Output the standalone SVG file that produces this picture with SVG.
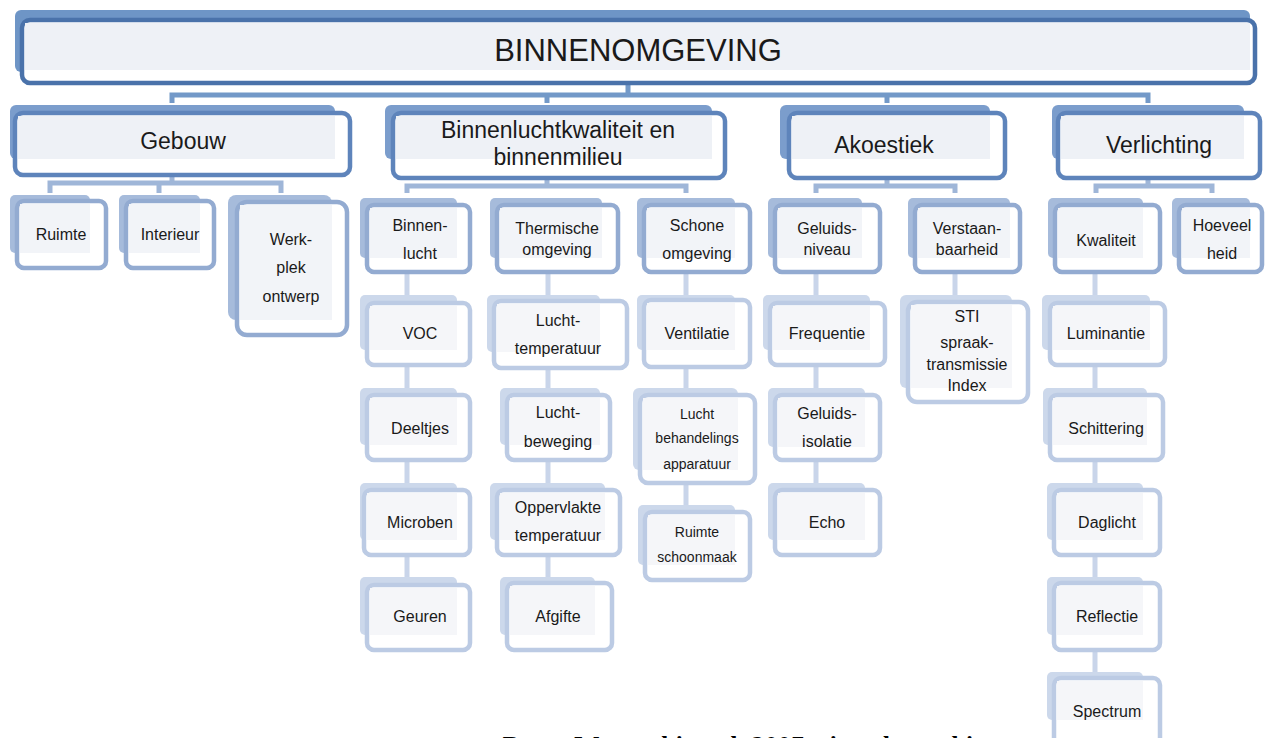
<svg xmlns="http://www.w3.org/2000/svg" width="1266" height="738" viewBox="0 0 1266 738">
<style>
text{font-family:"Liberation Sans",Arial,sans-serif;fill:#1a1a1a;text-anchor:middle}
.fr{fill:#ffffff;stroke-width:4.5}
.l0 .bk{fill:#6e95c6}.l0 .fr{stroke:#4a72aa}.l0 .ti{fill:#eef1f6}
.l1 .bk{fill:#7b9dcc}.l1 .fr{stroke:#5e84bb}.l1 .ti{fill:#eef1f6}
.l2 .bk{fill:#a6bbdb}.l2 .fr{stroke:#93abd1}.l2 .ti{fill:#f2f4f8}
.l3 .bk{fill:#ccd8eb}.l3 .fr{stroke:#bccbe4}.l3 .ti{fill:#f5f6f9}
.c0{stroke:#7399c8;stroke-width:5;fill:none}
.c1{stroke:#9fb6d8;stroke-width:5;fill:none}
.c3{stroke:#c9d5ea;stroke-width:5;fill:none}
.t0{font-size:31px}.t1{font-size:23px}.t2{font-size:16px}.t3{font-size:14px}
</style>
<rect width="1266" height="738" fill="#ffffff"/>
<g id="connectors">
<path class="c0" d="M628 83V95M172 103V95H1148V103M547 95V103M887 95V103"/>
<path class="c1" d="M172 175V183M50 193V183H281V193M159 183V193"/>
<path class="c1" d="M547 178V186M407 193V186H686V193"/>
<path class="c1" d="M887 178V186M816 193V186H955V193"/>
<path class="c1" d="M1148 178V186M1096 193V186H1212V193"/>
<path class="c3" d="M407 272V300M407 365V392M407 460V487M407 555V582"/>
<path class="c3" d="M548 272V300M548 368V392M548 460V487M548 555V582"/>
<path class="c3" d="M686 272V300M686 367V392M686 483V509"/>
<path class="c3" d="M816 272V300M816 365V392M816 460V487"/>
<path class="c3" d="M955 272V300"/>
<path class="c3" d="M1095 272V300M1095 365V392M1095 460V487M1095 555V582M1095 650V676"/>
</g>
<g id="n-binnenomgeving" class="l0">
<rect class="bk" x="15" y="10" width="1235" height="62" rx="6"/>
<rect class="fr" x="22" y="20" width="1233" height="63" rx="8"/>
<rect class="ti" x="25" y="23" width="1225" height="47"/>
<text class="t0" x="638" y="61">BINNENOMGEVING</text>
</g>
<g id="n-gebouw" class="l1">
<rect class="bk" x="10" y="105" width="325" height="54" rx="6"/>
<rect class="fr" x="15" y="113" width="335" height="62" rx="8"/>
<rect class="ti" x="18" y="116" width="317" height="43"/>
<text class="t1" x="183" y="149">Gebouw</text>
</g>
<g id="n-binnenlucht-kw" class="l1">
<rect class="bk" x="385" y="105" width="327" height="54" rx="6"/>
<rect class="fr" x="393" y="113" width="332" height="65" rx="8"/>
<rect class="ti" x="396" y="116" width="316" height="43"/>
<text class="t1" x="558" y="138">Binnenluchtkwaliteit en</text>
<text class="t1" x="558" y="165">binnenmilieu</text>
</g>
<g id="n-akoestiek" class="l1">
<rect class="bk" x="780" y="105" width="210" height="54" rx="6"/>
<rect class="fr" x="789" y="113" width="216" height="65" rx="8"/>
<rect class="ti" x="792" y="116" width="198" height="43"/>
<text class="t1" x="884" y="153">Akoestiek</text>
</g>
<g id="n-verlichting" class="l1">
<rect class="bk" x="1052" y="105" width="192" height="54" rx="6"/>
<rect class="fr" x="1058" y="113" width="202" height="65" rx="8"/>
<rect class="ti" x="1061" y="116" width="183" height="43"/>
<text class="t1" x="1159" y="153">Verlichting</text>
</g>
<g id="n-ruimte" class="l2">
<rect class="bk" x="10" y="195" width="80" height="58" rx="5"/>
<rect class="fr" x="17" y="201" width="89" height="67" rx="7"/>
<rect class="ti" x="20" y="204" width="70" height="49"/>
<text class="t2" x="61" y="240">Ruimte</text>
</g>
<g id="n-interieur" class="l2">
<rect class="bk" x="119" y="195" width="81" height="58" rx="5"/>
<rect class="fr" x="126" y="201" width="88" height="67" rx="7"/>
<rect class="ti" x="129" y="204" width="71" height="49"/>
<text class="t2" x="170" y="240">Interieur</text>
</g>
<g id="n-werkplek" class="l2">
<rect class="bk" x="228" y="195" width="104" height="125" rx="8"/>
<rect class="fr" x="237" y="202" width="110" height="133" rx="10"/>
<rect class="ti" x="240" y="205" width="92" height="115"/>
<text class="t2" x="291" y="245">Werk-</text>
<text class="t2" x="291" y="273">plek</text>
<text class="t2" x="291" y="302">ontwerp</text>
</g>
<g id="n-binnen-lucht" class="l2">
<rect class="bk" x="360" y="198" width="97" height="60" rx="5"/>
<rect class="fr" x="367" y="205" width="103" height="67" rx="7"/>
<rect class="ti" x="370" y="208" width="87" height="50"/>
<text class="t2" x="420" y="231">Binnen-</text>
<text class="t2" x="420" y="259">lucht</text>
</g>
<g id="n-thermische" class="l2">
<rect class="bk" x="490" y="198" width="112" height="60" rx="5"/>
<rect class="fr" x="497" y="205" width="121" height="67" rx="7"/>
<rect class="ti" x="500" y="208" width="102" height="50"/>
<text class="t2" x="557" y="234">Thermische</text>
<text class="t2" x="557" y="255">omgeving</text>
</g>
<g id="n-schone" class="l2">
<rect class="bk" x="637" y="198" width="98" height="60" rx="5"/>
<rect class="fr" x="644" y="205" width="106" height="67" rx="7"/>
<rect class="ti" x="647" y="208" width="88" height="50"/>
<text class="t2" x="697" y="231">Schone</text>
<text class="t2" x="697" y="259">omgeving</text>
</g>
<g id="n-voc" class="l3">
<rect class="bk" x="360" y="295" width="97" height="55" rx="5"/>
<rect class="fr" x="367" y="303" width="103" height="62" rx="7"/>
<rect class="ti" x="370" y="306" width="87" height="44"/>
<text class="t2" x="420" y="339">VOC</text>
</g>
<g id="n-deeltjes" class="l3">
<rect class="bk" x="360" y="388" width="97" height="57" rx="5"/>
<rect class="fr" x="367" y="395" width="103" height="65" rx="7"/>
<rect class="ti" x="370" y="398" width="87" height="47"/>
<text class="t2" x="420" y="434">Deeltjes</text>
</g>
<g id="n-microben" class="l3">
<rect class="bk" x="360" y="483" width="97" height="57" rx="5"/>
<rect class="fr" x="364" y="490" width="106" height="65" rx="7"/>
<rect class="ti" x="367" y="493" width="90" height="47"/>
<text class="t2" x="420" y="528">Microben</text>
</g>
<g id="n-geuren" class="l3">
<rect class="bk" x="360" y="577" width="97" height="58" rx="5"/>
<rect class="fr" x="367" y="585" width="103" height="65" rx="7"/>
<rect class="ti" x="370" y="588" width="87" height="47"/>
<text class="t2" x="420" y="622">Geuren</text>
</g>
<g id="n-luchttemp" class="l3">
<rect class="bk" x="487" y="295" width="113" height="57" rx="5"/>
<rect class="fr" x="494" y="301" width="133" height="67" rx="7"/>
<rect class="ti" x="497" y="304" width="103" height="48"/>
<text class="t2" x="558" y="326">Lucht-</text>
<text class="t2" x="558" y="354">temperatuur</text>
</g>
<g id="n-luchtbew" class="l3">
<rect class="bk" x="500" y="388" width="100" height="57" rx="5"/>
<rect class="fr" x="507" y="395" width="103" height="65" rx="7"/>
<rect class="ti" x="510" y="398" width="90" height="47"/>
<text class="t2" x="558" y="418">Lucht-</text>
<text class="t2" x="558" y="447">beweging</text>
</g>
<g id="n-oppervlakte" class="l3">
<rect class="bk" x="490" y="483" width="115" height="57" rx="5"/>
<rect class="fr" x="497" y="490" width="123" height="65" rx="7"/>
<rect class="ti" x="500" y="493" width="105" height="47"/>
<text class="t2" x="558" y="513">Oppervlakte</text>
<text class="t2" x="558" y="541">temperatuur</text>
</g>
<g id="n-afgifte" class="l3">
<rect class="bk" x="500" y="577" width="95" height="58" rx="5"/>
<rect class="fr" x="507" y="583" width="105" height="67" rx="7"/>
<rect class="ti" x="510" y="586" width="85" height="49"/>
<text class="t2" x="558" y="622">Afgifte</text>
</g>
<g id="n-ventilatie" class="l3">
<rect class="bk" x="637" y="295" width="98" height="55" rx="5"/>
<rect class="fr" x="644" y="300" width="106" height="67" rx="7"/>
<rect class="ti" x="647" y="303" width="88" height="47"/>
<text class="t2" x="697" y="339">Ventilatie</text>
</g>
<g id="n-luchtbehandeling" class="l3">
<rect class="bk" x="633" y="388" width="105" height="82" rx="6"/>
<rect class="fr" x="640" y="395" width="115" height="88" rx="8"/>
<rect class="ti" x="643" y="398" width="95" height="72"/>
<text class="t3" x="697" y="419">Lucht</text>
<text class="t3" x="697" y="443">behandelings</text>
<text class="t3" x="697" y="469">apparatuur</text>
</g>
<g id="n-ruimteschoonmaak" class="l3">
<rect class="bk" x="638" y="505" width="97" height="60" rx="5"/>
<rect class="fr" x="645" y="512" width="105" height="68" rx="7"/>
<rect class="ti" x="648" y="515" width="87" height="50"/>
<text class="t3" x="697" y="537">Ruimte</text>
<text class="t3" x="697" y="562">schoonmaak</text>
</g>
<g id="n-geluidsniveau" class="l2">
<rect class="bk" x="768" y="198" width="94" height="60" rx="5"/>
<rect class="fr" x="775" y="205" width="105" height="67" rx="7"/>
<rect class="ti" x="778" y="208" width="84" height="50"/>
<text class="t2" x="827" y="234">Geluids-</text>
<text class="t2" x="827" y="255">niveau</text>
</g>
<g id="n-verstaanbaarheid" class="l2">
<rect class="bk" x="908" y="198" width="102" height="60" rx="5"/>
<rect class="fr" x="915" y="205" width="105" height="67" rx="7"/>
<rect class="ti" x="918" y="208" width="92" height="50"/>
<text class="t2" x="967" y="234">Verstaan-</text>
<text class="t2" x="967" y="255">baarheid</text>
</g>
<g id="n-frequentie" class="l3">
<rect class="bk" x="763" y="295" width="107" height="55" rx="5"/>
<rect class="fr" x="770" y="303" width="115" height="62" rx="7"/>
<rect class="ti" x="773" y="306" width="97" height="44"/>
<text class="t2" x="827" y="339">Frequentie</text>
</g>
<g id="n-geluidsisolatie" class="l3">
<rect class="bk" x="768" y="388" width="97" height="59" rx="5"/>
<rect class="fr" x="775" y="395" width="105" height="65" rx="7"/>
<rect class="ti" x="778" y="398" width="87" height="49"/>
<text class="t2" x="827" y="419">Geluids-</text>
<text class="t2" x="827" y="447">isolatie</text>
</g>
<g id="n-echo" class="l3">
<rect class="bk" x="768" y="483" width="97" height="57" rx="5"/>
<rect class="fr" x="775" y="490" width="105" height="65" rx="7"/>
<rect class="ti" x="778" y="493" width="87" height="47"/>
<text class="t2" x="827" y="528">Echo</text>
</g>
<g id="n-sti" class="l3">
<rect class="bk" x="900" y="295" width="112" height="93" rx="6"/>
<rect class="fr" x="908" y="302" width="120" height="100" rx="9"/>
<rect class="ti" x="911" y="305" width="101" height="83"/>
<text class="t2" x="967" y="322">STI</text>
<text class="t2" x="967" y="348">spraak-</text>
<text class="t2" x="967" y="370">transmissie</text>
<text class="t2" x="967" y="391">Index</text>
</g>
<g id="n-kwaliteit" class="l2">
<rect class="bk" x="1048" y="198" width="95" height="60" rx="5"/>
<rect class="fr" x="1055" y="205" width="105" height="67" rx="7"/>
<rect class="ti" x="1058" y="208" width="85" height="50"/>
<text class="t2" x="1106" y="246">Kwaliteit</text>
</g>
<g id="n-hoeveelheid" class="l2">
<rect class="bk" x="1172" y="198" width="78" height="60" rx="5"/>
<rect class="fr" x="1179" y="205" width="83" height="67" rx="7"/>
<rect class="ti" x="1182" y="208" width="68" height="50"/>
<text class="t2" x="1222" y="231">Hoeveel</text>
<text class="t2" x="1222" y="259">heid</text>
</g>
<g id="n-luminantie" class="l3">
<rect class="bk" x="1042" y="295" width="108" height="55" rx="5"/>
<rect class="fr" x="1050" y="303" width="115" height="62" rx="7"/>
<rect class="ti" x="1053" y="306" width="97" height="44"/>
<text class="t2" x="1106" y="339">Luminantie</text>
</g>
<g id="n-schittering" class="l3">
<rect class="bk" x="1043" y="388" width="104" height="57" rx="5"/>
<rect class="fr" x="1050" y="395" width="113" height="65" rx="7"/>
<rect class="ti" x="1053" y="398" width="94" height="47"/>
<text class="t2" x="1106" y="434">Schittering</text>
</g>
<g id="n-daglicht" class="l3">
<rect class="bk" x="1047" y="483" width="96" height="57" rx="5"/>
<rect class="fr" x="1054" y="490" width="106" height="65" rx="7"/>
<rect class="ti" x="1057" y="493" width="86" height="47"/>
<text class="t2" x="1107" y="528">Daglicht</text>
</g>
<g id="n-reflectie" class="l3">
<rect class="bk" x="1047" y="577" width="96" height="58" rx="5"/>
<rect class="fr" x="1054" y="583" width="106" height="67" rx="7"/>
<rect class="ti" x="1057" y="586" width="86" height="49"/>
<text class="t2" x="1107" y="622">Reflectie</text>
</g>
<g id="n-spectrum" class="l3">
<rect class="bk" x="1047" y="672" width="96" height="48" rx="5"/>
<rect class="fr" x="1054" y="678" width="106" height="70" rx="7"/>
<rect class="ti" x="1057" y="681" width="86" height="39"/>
<text class="t2" x="1107" y="717">Spectrum</text>
</g>
<text x="752" y="754" style="font-family:'Liberation Serif','Times New Roman',serif;font-weight:bold;font-size:25px;letter-spacing:0.6px;fill:#000">Bron: Wargocki et al. 2007, eigen bewerking</text>
</svg>
